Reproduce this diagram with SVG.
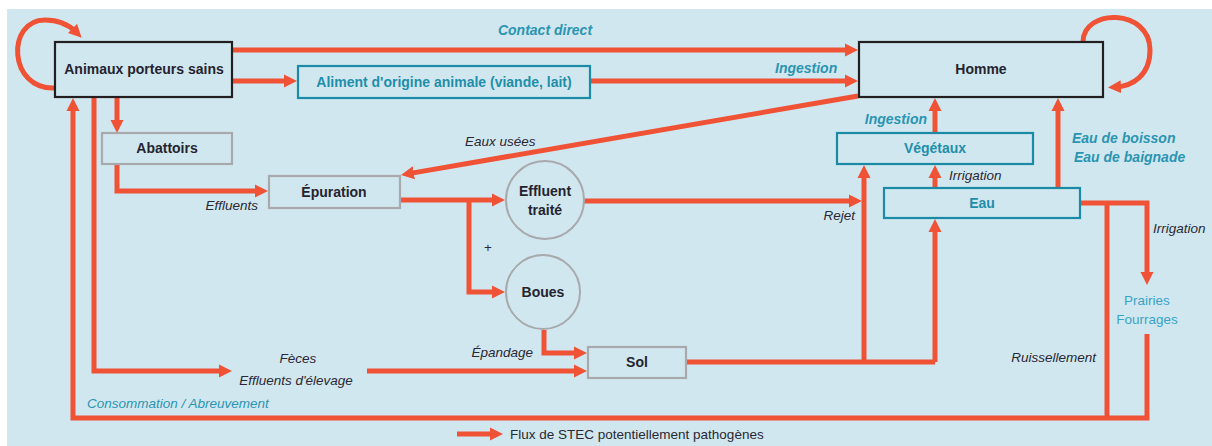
<svg xmlns="http://www.w3.org/2000/svg" width="1212" height="446" viewBox="0 0 1212 446">
<defs>
<marker id="ah" markerUnits="userSpaceOnUse" markerWidth="14" markerHeight="14" viewBox="0 0 14 14" refX="5" refY="7" orient="auto">
<path d="M0,0.5 L13,7 L0,13.5 z" fill="#f05236"/>
</marker>
<style>
.bg{fill:#d1e7ef}
.bk{fill:none;stroke:#231f20;stroke-width:2.2}
.gr{fill:none;stroke:#a7a9ac;stroke-width:2.2}
.tl{fill:none;stroke:#1a8aa6;stroke-width:2.2}
.ci{fill:none;stroke:#a7a9ac;stroke-width:2}
.f{fill:none;stroke:#f05236;stroke-width:5}
.a{marker-end:url(#ah)}
text{font-family:"Liberation Sans",Arial,sans-serif;font-size:13.5px}
.nb{font-weight:bold;fill:#25232e;text-anchor:middle;font-size:14px}
.nt{font-weight:bold;fill:#1e8eab;text-anchor:middle;font-size:14px}
.li{font-style:italic;fill:#2a2833}
.lt{font-style:italic;font-weight:bold;fill:#2a95b2;font-size:14px}
.lc{font-style:italic;fill:#2a95b2}
.pr{fill:#3aa3c4;text-anchor:middle}
.lg{fill:#2a2833}
</style>
</defs>
<rect class="bg" x="7" y="9" width="1205" height="437"/>

<g id="connectors">
<path class="f a" d="M232,50 H850"/>
<path class="f a" d="M232,81 H289"/>
<path class="f a" d="M590,81 H850"/>
<path class="f a" d="M858,96 L408.9,173.6"/>
<path class="f a" d="M117,97 V125"/>
<path class="f a" d="M117,164 V191 H260"/>
<path class="f a" d="M400,200 H497"/>
<path class="f a" d="M469,200 V292 H497"/>
<path class="f a" d="M584,201 H854"/>
<path class="f" d="M686,362 H935"/>
<path class="f a" d="M864,362 V173"/>
<path class="f a" d="M935,362 V227"/>
<path class="f a" d="M544,330 V353 H579"/>
<path class="f a" d="M94,97 V371 H224"/>
<path class="f a" d="M367,371 H579"/>
<path class="f a" d="M1147,334 V418 H73 V106"/>
<path class="f" d="M1107,203 V418"/>
<path class="f a" d="M1080,203 H1147 V277"/>
<path class="f a" d="M935,133 V106"/>
<path class="f a" d="M935,188 V173"/>
<path class="f a" d="M1058,188 V106"/>
<path class="f a" d="M55,88 C8,90 6,20 45,20 C60,20 70,26 76,32"/>
<path class="f a" d="M1083,42 C1083,8 1150,8 1150,50 C1150,76 1132,86 1116,87"/>
</g>

<g id="labels">
<text class="lt" x="545" y="35" text-anchor="middle">Contact direct</text>
<text class="lt" x="775" y="73">Ingestion</text>
<text class="li" x="465" y="146">Eaux usées</text>
<text class="li" x="258" y="210" text-anchor="end">Effluents</text>
<text class="lg" x="488" y="252" text-anchor="middle">+</text>
<text class="li" x="855" y="220" text-anchor="end">Rejet</text>
<text class="lt" x="927" y="124" text-anchor="end">Ingestion</text>
<text class="li" x="949" y="180">Irrigation</text>
<text class="lt" x="1072" y="143">Eau de boisson</text>
<text class="lt" x="1074" y="162">Eau de baignade</text>
<text class="li" x="1153" y="233">Irrigation</text>
<text class="li" x="1096" y="362" text-anchor="end">Ruissellement</text>
<text class="li" x="533" y="357" text-anchor="end">Épandage</text>
<text class="li" x="298" y="363" text-anchor="middle">Fèces</text>
<text class="li" x="296" y="385" text-anchor="middle">Effluents d'élevage</text>
<text class="lc" x="87" y="408">Consommation / Abreuvement</text>
</g>

<g id="animaux">
<rect class="bk" x="55" y="42" width="177" height="55"/>
<text class="nb" x="144" y="74">Animaux porteurs sains</text>
</g>
<g id="aliment">
<rect class="tl" x="298" y="66" width="292" height="32"/>
<text class="nt" x="444" y="87">Aliment d'origine animale (viande, lait)</text>
</g>
<g id="homme">
<rect class="bk" x="859" y="42" width="244" height="55"/>
<text class="nb" x="981" y="74">Homme</text>
</g>
<g id="abattoirs">
<rect class="gr" x="102" y="133" width="130" height="31"/>
<text class="nb" x="167" y="153">Abattoirs</text>
</g>
<g id="epuration">
<rect class="gr" x="269" y="176" width="131" height="32"/>
<text class="nb" x="334" y="197">Épuration</text>
</g>
<g id="effluent">
<circle class="ci" cx="545" cy="200" r="39"/>
<text class="nb" x="545" y="196">Effluent</text>
<text class="nb" x="545" y="215">traité</text>
</g>
<g id="boues">
<circle class="ci" cx="543" cy="292" r="37"/>
<text class="nb" x="543" y="297">Boues</text>
</g>
<g id="sol">
<rect class="gr" x="588" y="347" width="98" height="31"/>
<text class="nb" x="637" y="367">Sol</text>
</g>
<g id="vegetaux">
<rect class="tl" x="837" y="133" width="196" height="31"/>
<text class="nt" x="935" y="153">Végétaux</text>
</g>
<g id="eau">
<rect class="tl" x="884" y="188" width="196" height="30"/>
<text class="nt" x="982" y="208">Eau</text>
</g>
<g id="prairies">
<text class="pr" x="1147" y="305">Prairies</text>
<text class="pr" x="1147" y="324">Fourrages</text>
</g>
<g id="legend">
<path class="f a" d="M457,434 H495"/>
<text class="lg" x="510" y="439">Flux de STEC potentiellement pathogènes</text>
</g>
</svg>
